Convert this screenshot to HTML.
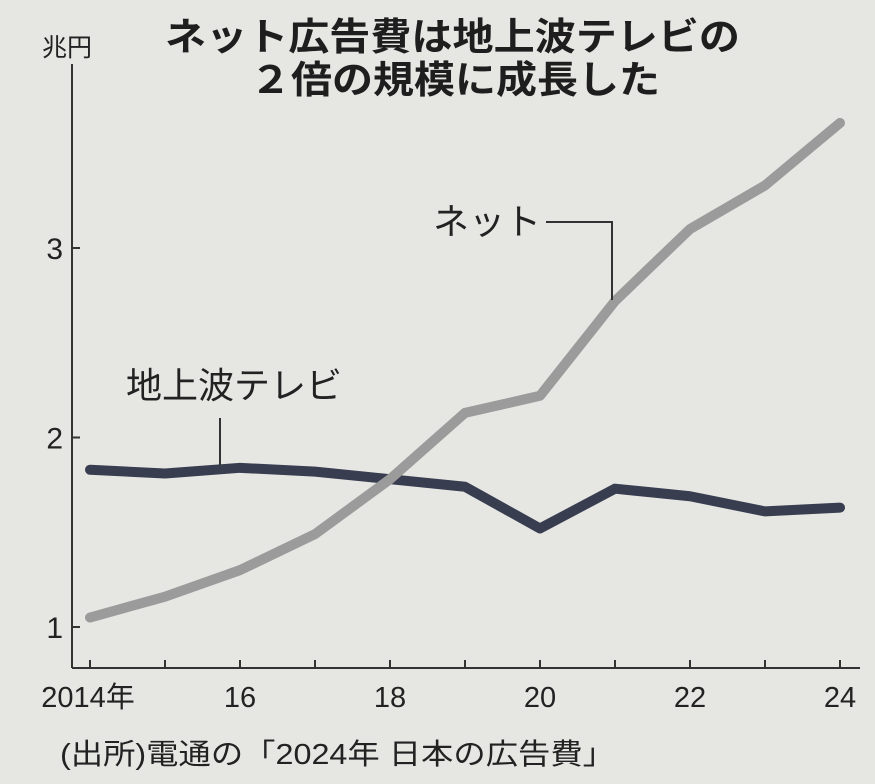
<!DOCTYPE html>
<html><head><meta charset="utf-8"><style>
html,body{margin:0;padding:0;background:#e6e6e3;}
svg{display:block;font-family:"Liberation Sans","Noto Sans CJK JP",sans-serif;}
</style></head><body>
<svg width="875" height="784" viewBox="0 0 875 784" id="chart">
<rect width="875" height="784" fill="#e6e6e3"/>
<text x="165" y="50" textLength="575" lengthAdjust="spacingAndGlyphs" font-size="38" font-weight="bold" fill="#1e1e1e">ネット広告費は地上波テレビの</text>
<text x="250" y="93" textLength="410" lengthAdjust="spacingAndGlyphs" font-size="38" font-weight="bold" fill="#1e1e1e">２倍の規模に成長した</text>
<text x="42" y="56" font-size="25" fill="#222">兆円</text>
<text x="60" y="764" textLength="555" lengthAdjust="spacingAndGlyphs" font-size="29" fill="#222">(出所)電通の「2024年 日本の広告費」</text>
<g id="axes"></g>
<g id="series"></g>
<text x="433" y="234" font-size="36" fill="#222">ネット</text>
<polyline points="546,222 612,222 612,300" fill="none" stroke="#333" stroke-width="2"/>
<text x="126" y="398" font-size="36" fill="#222">地上波テレビ</text>
<line x1="220" y1="418" x2="220" y2="465" stroke="#333" stroke-width="2"/>
</svg>
<script>
const years=[2014,2015,2016,2017,2018,2019,2020,2021,2022,2023,2024];
const netValues=[1.05,1.16,1.30,1.49,1.78,2.13,2.22,2.72,3.10,3.33,3.66];
const tvValues=[1.83,1.81,1.84,1.82,1.78,1.74,1.52,1.73,1.69,1.61,1.63];
const xTickLabels=["2014年","16","18","20","22","24"];
const xTickYears=[2014,2016,2018,2020,2022,2024];
const yTicks=[1,2,3];
const NS="http://www.w3.org/2000/svg";
function xs(y){return 90+(y-2014)*75;}
function ys(v){return 627-(v-1)*189.5;}
function mk(tag,attrs,parent){const e=document.createElementNS(NS,tag);for(const k in attrs)e.setAttribute(k,attrs[k]);parent.appendChild(e);return e;}
const ax=document.getElementById('axes');
let e=mk('line',{x1:72,y1:64,x2:72,y2:668,stroke:'#333','stroke-width':2},ax);


e=mk('line',{x1:72,y1:668,x2:860,y2:668,stroke:'#333','stroke-width':2},ax);


yTicks.forEach(v=>{
 const t=mk('line',{x1:72,y1:ys(v),x2:80,y2:ys(v),stroke:'#333','stroke-width':2},ax);
 
 
 const l=mk('text',{x:63,y:ys(v)+11,'text-anchor':'end','font-size':30,fill:'#222'},ax);
 l.textContent=v;
 
 
});
years.forEach(y=>{
 const t=mk('line',{x1:xs(y),y1:660,x2:xs(y),y2:668,stroke:'#333','stroke-width':2},ax);
 
 
});
xTickYears.forEach((y,i)=>{
 const l=mk('text',{x:xs(y)+(i===0?-2:0),y:707,'text-anchor':'middle','font-size':29,fill:'#222'},ax);
 l.textContent=xTickLabels[i];
 
 
});
const sg=document.getElementById('series');
function line(vals,color,name){
 const p=mk('polyline',{points:vals.map((v,i)=>xs(years[i])+','+ys(v)).join(' '),fill:'none',stroke:color,'stroke-width':10,'stroke-linejoin':'round','stroke-linecap':'round'},sg);
 
 
}
line(tvValues,'#383d50','tv-line');
line(netValues,'#9b9b9b','net-line');
</script>
</body></html>
